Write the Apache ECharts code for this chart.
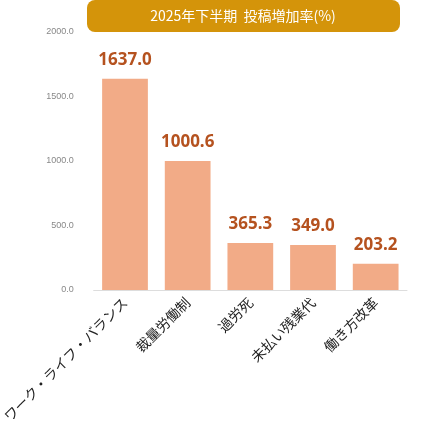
<!DOCTYPE html><html><head><meta charset="utf-8"><script src="https://cdn.jsdelivr.net/npm/echarts@6/dist/echarts.min.js"></script></head><body style="margin:0"><div id="c" style="width:421px;height:436px"></div><script>
const categories=["ワーク・ライフ・バランス","裁量労働制","過労死","未払い残業代","働き方改革"];
const values=[1637.0,1000.6,365.3,349.0,203.2];
const title="2025年下半期  投稿増加率(%)";
const ch=echarts.init(document.getElementById('c'));
ch.setOption({
graphic:[{type:'rect',shape:{x:87,y:0,width:313,height:32,r:8},style:{fill:'#D4940A'}},
{type:'text',x:243,y:16,style:{text:title,fill:'#fff',font:'14px "Noto Sans CJK JP"',align:'center',verticalAlign:'middle'}}],
grid:{left:87,right:14,top:32,bottom:146},
xAxis:{type:'category',data:categories,axisTick:{show:false},axisLine:{lineStyle:{color:'#ddd'}},
axisLabel:{rotate:45,interval:0,color:'#222',fontSize:14,fontFamily:'Noto Sans CJK JP',margin:10}},
yAxis:{type:'value',min:0,max:2000,interval:500,splitLine:{show:false},
axisLabel:{formatter:v=>v.toFixed(1),color:'#888',fontSize:9,margin:20}},
series:[{type:'bar',data:values,barWidth:'73%',itemStyle:{color:'#F2AB87'},
label:{show:true,position:'top',distance:10,formatter:p=>p.value.toFixed(1),color:'#B5521F',fontWeight:'bold',fontSize:17,fontFamily:'Noto Sans'}}]
});
</script></body></html>
